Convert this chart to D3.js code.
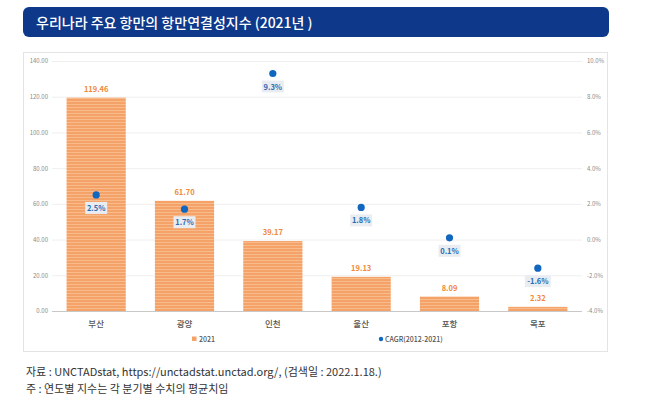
<!DOCTYPE html>
<html>
<head>
<meta charset="utf-8">
<script src="https://cdn.jsdelivr.net/npm/d3@7"></script>
<style>
  body { margin: 0; background: #fff; font-family: "Noto Sans CJK KR", "Noto Sans", sans-serif; }
</style>
</head>
<body>
<div id="chart"></div>
<script>
var ports = ["부산", "광양", "인천", "울산", "포항", "목포"];
var index2021 = [119.46, 61.70, 39.17, 19.13, 8.09, 2.32];
var cagr = [2.5, 1.7, 9.3, 1.8, 0.1, -1.6];
var leftTicks = [0, 20, 40, 60, 80, 100, 120, 140];
var rightTicks = [-4, -2, 0, 2, 4, 6, 8, 10];

var width = 652, height = 408;
var font = "'Noto Sans CJK KR', 'Noto Sans', sans-serif";

var svg = d3.select("#chart").append("svg")
    .attr("width", width)
    .attr("height", height);

// stripe pattern for the bars
var defs = svg.append("defs");
var pat = defs.append("pattern")
    .attr("id", "stripes")
    .attr("patternUnits", "userSpaceOnUse")
    .attr("width", 4).attr("height", 3);
pat.append("rect").attr("width", 4).attr("height", 3).attr("fill", "#f4a267");
pat.append("rect").attr("y", 2).attr("width", 4).attr("height", 1).attr("fill", "#f8bb8c");

// title banner
svg.append("rect")
    .attr("x", 23).attr("y", 7)
    .attr("width", 586).attr("height", 30)
    .attr("rx", 6)
    .attr("fill", "#0e388a");
svg.append("text")
    .attr("x", 36).attr("y", 28)
    .attr("fill", "#fff")
    .style("font", `500 14px ${font}`)
    .text("우리나라 주요 항만의 항만연결성지수 (2021년 )");

// chart panel
svg.append("rect")
    .attr("x", 23.5).attr("y", 52.5)
    .attr("width", 584).attr("height", 299)
    .attr("fill", "#fff")
    .attr("stroke", "#e4e4e4");

var x = d3.scaleBand()
    .domain(ports)
    .range([52, 582])
    .paddingInner(0.33)
    .paddingOuter(0.165);

var y = d3.scaleLinear().domain([0, 140]).range([311, 61]);
var y2 = d3.scaleLinear().domain([-4, 10]).range([311, 61]);

// grid
svg.append("g")
  .selectAll("line")
  .data(leftTicks)
  .join("line")
    .attr("x1", 52).attr("x2", 582)
    .attr("y1", d => y(d) + 0.5).attr("y2", d => y(d) + 0.5)
    .attr("stroke", d => d === 0 ? "#c8c8c8" : "#efefef");

// left axis
var leftAxis = svg.append("g")
    .attr("transform", "translate(48,0)")
    .call(d3.axisLeft(y).tickValues(leftTicks).tickFormat(d3.format(".2f")).tickSize(0).tickPadding(0));
leftAxis.select(".domain").remove();
leftAxis.selectAll("text")
    .attr("fill", "#8a8a8a")
    .style("font", `6px ${font}`);

// right axis
var rightAxis = svg.append("g")
    .attr("transform", "translate(587,0)")
    .call(d3.axisRight(y2).tickValues(rightTicks).tickFormat(d => d.toFixed(1) + "%").tickSize(0).tickPadding(0));
rightAxis.select(".domain").remove();
rightAxis.selectAll("text")
    .attr("fill", "#8a8a8a")
    .style("font", `6px ${font}`);

// bars
svg.append("g")
  .selectAll("rect")
  .data(index2021)
  .join("rect")
    .attr("x", (d, i) => x(ports[i]))
    .attr("y", d => y(d))
    .attr("width", x.bandwidth())
    .attr("height", d => y(0) - y(d))
    .attr("fill", "url(#stripes)");

// bar value labels
svg.append("g")
  .selectAll("text")
  .data(index2021)
  .join("text")
    .attr("x", (d, i) => x(ports[i]) + x.bandwidth() / 2)
    .attr("y", d => y(d) - 6)
    .attr("text-anchor", "middle")
    .attr("fill", "#f0893a")
    .style("font", `bold 7.5px ${font}`)
    .text(d => d.toFixed(2));

// x labels
var bottomAxis = svg.append("g")
    .attr("transform", "translate(0,311)")
    .call(d3.axisBottom(x).tickSize(0).tickPadding(10));
bottomAxis.select(".domain").remove();
bottomAxis.selectAll("text")
    .attr("fill", "#555")
    .style("font", `500 8.5px ${font}`);

// CAGR points and labels
var pts = svg.append("g")
  .selectAll("g")
  .data(cagr)
  .join("g")
    .attr("transform", (d, i) => `translate(${x(ports[i]) + x.bandwidth() / 2},${y2(d)})`);
pts.append("rect")
    .attr("x", d => d < 0 ? -13 : -11)
    .attr("y", 7)
    .attr("width", d => d < 0 ? 26 : 22)
    .attr("height", 12)
    .attr("fill", "#e9edf2");
pts.append("text")
    .attr("y", 16)
    .attr("text-anchor", "middle")
    .attr("fill", "#2a6cb3")
    .style("font", `bold 7.5px ${font}`)
    .text(d => d.toFixed(1) + "%");
pts.append("circle")
    .attr("r", 3.6)
    .attr("fill", "#1167c0");

// legend
svg.append("rect")
    .attr("x", 192).attr("y", 336.5)
    .attr("width", 4.5).attr("height", 4.5)
    .attr("fill", "#f4a267");
svg.append("text")
    .attr("x", 199).attr("y", 341.5)
    .attr("fill", "#555")
    .style("font", `500 7px ${font}`)
    .text("2021");
svg.append("circle")
    .attr("cx", 381).attr("cy", 339)
    .attr("r", 2.2)
    .attr("fill", "#1167c0");
svg.append("text")
    .attr("x", 385).attr("y", 341.5)
    .attr("fill", "#555")
    .style("font", `500 7px ${font}`)
    .text("CAGR(2012-2021)");

// footnotes
svg.append("text")
    .attr("x", 26).attr("y", 376)
    .attr("fill", "#333")
    .style("font", `11px ${font}`)
    .text("자료 : UNCTADstat, https://unctadstat.unctad.org/, (검색일 : 2022.1.18.)");
svg.append("text")
    .attr("x", 26).attr("y", 393)
    .attr("fill", "#333")
    .style("font", `11px ${font}`)
    .text("주 : 연도별 지수는 각 분기별 수치의 평균치임");
</script>
</body>
</html>
